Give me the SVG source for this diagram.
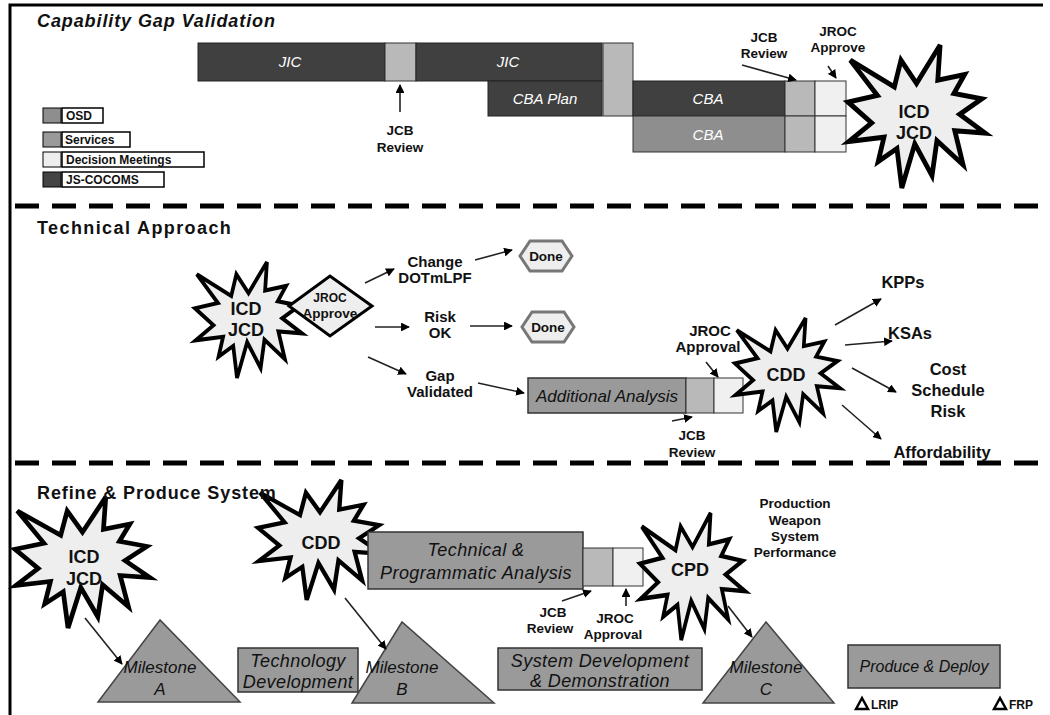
<svg xmlns="http://www.w3.org/2000/svg" xmlns:xlink="http://www.w3.org/1999/xlink" width="1050" height="715" viewBox="0 0 1050 715">
<style>
text{font-family:"Liberation Sans",Arial,sans-serif;text-anchor:middle;}
.title{font-size:18px;font-weight:bold;text-anchor:start;fill:#111;letter-spacing:0.9px;}
.lbl{font-size:13.5px;font-weight:bold;fill:#111;}
.lbm{font-size:15px;font-weight:bold;fill:#111;}
.lbr{font-size:16.5px;font-weight:bold;fill:#111;}
.sm{font-size:12px;}
.st{text-anchor:start;}
.bar{font-size:15px;font-style:italic;fill:#fff;}
.box{font-size:18px;font-style:italic;fill:#111;letter-spacing:0.4px;}
.boxs{font-size:17px;font-style:italic;fill:#111;}
.dark{fill:#404040;stroke:#222;stroke-width:1;}
.mid{fill:#8e8e8e;stroke:#333;stroke-width:1;}
.gsq{fill:#b9b9b9;stroke:#333;stroke-width:1;}
.lsq{fill:#f0f0f0;stroke:#333;stroke-width:1;}
.gbox{fill:#9a9a9a;stroke:#333;stroke-width:1.5;}
.burst{fill:#eeeeee;stroke:#000;stroke-width:3.5;stroke-linejoin:miter;}
.burstt{font-size:18px;font-weight:bold;fill:#111;}
.conn{stroke:#222;stroke-width:1.6;fill:none;marker-end:url(#ah);}
.div{stroke:#000;stroke-width:5;stroke-dasharray:24 13;}
.leg{font-size:12px;font-weight:bold;text-anchor:start;fill:#111;}
.legb{fill:#fff;stroke:#000;stroke-width:1.5;}
.hex{fill:#eeeeee;stroke:#777;stroke-width:3;}
.tri{fill:#9a9a9a;stroke:#444;stroke-width:1.5;}
</style>
<defs>
<marker id="ah" viewBox="0 0 10 10" refX="9" refY="5" markerWidth="5.5" markerHeight="5.5" orient="auto" markerUnits="strokeWidth">
<path d="M0,0 L10,5 L0,10 z" fill="#000"/>
</marker>
<path id="seal" d="M50,26.85 L38.67,10.63 L33.85,29.26 L1.71,10.63 L21.42,35.26 L0,39.88 L17.23,54.51 L0.63,67.53 L26.24,64.53 L22.05,81.56 L35.72,72.36 L39.28,100 L48.76,69.14 L61.33,91.38 L64.91,66.93 L84,83.77 L77.95,59.92 L100,61.53 L81.51,48.5 L97.67,37.67 L77.32,33.86 L85.09,20.63 L65.53,24.65 L67.23,0 Z"/>
</defs>
<rect width="1050" height="715" fill="#fff"/>
<!-- frame -->
<path d="M10,715 L10,5 L1043,5" fill="none" stroke="#000" stroke-width="3"/>
<line class="div" x1="15" y1="206" x2="1040" y2="206"/>
<line class="div" x1="15" y1="463" x2="1040" y2="463"/>

<!-- ===== Section 1 ===== -->
<text class="title" x="37" y="27" font-style="italic">Capability Gap Validation</text>
<g id="jic1"><rect class="dark" x="198" y="43" width="187" height="38"/><text class="bar" x="290" y="67">JIC</text></g>
<g id="jcb1"><rect class="gsq" x="385" y="43" width="31" height="38"/></g>
<g id="jic2"><rect class="dark" x="416" y="43" width="186" height="38"/><text class="bar" x="508" y="67">JIC</text></g>
<g id="cbaplan"><rect class="dark" x="488" y="81" width="114" height="35"/><text class="bar" x="545" y="104">CBA Plan</text></g>
<g id="tall"><rect class="gsq" x="603" y="43" width="30" height="73"/></g>
<g id="cba1"><rect class="dark" x="633" y="81" width="152" height="35"/><text class="bar" x="708" y="104">CBA</text></g>
<g id="cba2"><rect class="mid" x="633" y="116" width="152" height="36"/><text class="bar" x="708" y="140">CBA</text></g>
<g id="sq1"><rect class="gsq" x="785" y="81" width="30" height="35"/><rect class="gsq" x="785" y="116" width="30" height="36"/></g>
<g id="sq2"><rect class="lsq" x="815" y="81" width="31" height="35"/><rect class="lsq" x="815" y="116" width="31" height="36"/></g>
<g id="icd1"><use href="#seal" class="burst" vector-effect="non-scaling-stroke" transform="translate(848,45) scale(1.37,1.43)"/>
<text class="burstt" x="914" y="118">ICD</text><text class="burstt" x="914" y="139">JCD</text></g>
<g id="legend">
<rect x="43" y="108" width="18" height="15" fill="#8e8e8e" stroke="#000"/><rect class="legb" x="62" y="108" width="41" height="15"/><text class="leg" x="66" y="120">OSD</text>
<rect x="43" y="132" width="18" height="15" fill="#9a9a9a" stroke="#000"/><rect class="legb" x="62" y="132" width="68" height="15"/><text class="leg" x="65" y="144">Services</text>
<rect x="43" y="152" width="18" height="15" fill="#eeeeee" stroke="#000"/><rect class="legb" x="62" y="152" width="142" height="15"/><text class="leg" x="66" y="164">Decision Meetings</text>
<rect x="43" y="172" width="18" height="15" fill="#444" stroke="#000"/><rect class="legb" x="62" y="172" width="102" height="15"/><text class="leg" x="66" y="184">JS-COCOMS</text>
</g>
<g id="lbl-jcb1"><text class="lbl" x="400" y="135">JCB</text><text class="lbl" x="400" y="152">Review</text></g>
<g id="lbl-jcb2"><text class="lbl" x="764" y="42">JCB</text><text class="lbl" x="764" y="58">Review</text></g>
<g id="lbl-jroc1"><text class="lbl" x="838" y="36">JROC</text><text class="lbl" x="838" y="52">Approve</text></g>

<!-- ===== Section 2 ===== -->
<text class="title" x="37" y="234" style="letter-spacing:1.4px">Technical Approach</text>
<g id="icd2"><use href="#seal" class="burst" vector-effect="non-scaling-stroke" transform="translate(195,262) scale(1.07,1.16)"/>
<text class="burstt" x="246" y="315">ICD</text><text class="burstt" x="246" y="336">JCD</text></g>
<g id="jroc2"><path d="M289,306 L330,276 L372,306 L330,336 Z" fill="#eee" stroke="#000" stroke-width="3"/>
<text class="lbl sm" x="330" y="302">JROC</text><text class="lbl" x="330" y="318">Approve</text></g>
<g id="lbl-change"><text class="lbm" x="435" y="267">Change</text><text class="lbm" x="435" y="283">DOTmLPF</text></g>
<g id="lbl-risk"><text class="lbm" x="440" y="322">Risk</text><text class="lbm" x="440" y="338">OK</text></g>
<g id="lbl-gap"><text class="lbm" x="440" y="381">Gap</text><text class="lbm" x="440" y="397">Validated</text></g>
<g id="done1"><path class="hex" d="M530,241 L562,241 L572,256 L562,271 L530,271 L520,256 Z"/><text class="lbl" x="546" y="261">Done</text></g>
<g id="done2"><path class="hex" d="M532,312 L564,312 L574,327 L564,342 L532,342 L522,327 Z"/><text class="lbl" x="548" y="332">Done</text></g>
<g id="aa"><rect class="gbox" x="528" y="378" width="158" height="35"/><text class="boxs" x="607" y="402">Additional Analysis</text>
<rect class="gsq" x="686" y="378" width="28" height="35"/><rect class="lsq" x="714" y="378" width="29" height="35"/></g>
<g id="lbl-jroc2"><text class="lbm" x="710" y="336">JROC</text><text class="lbm" x="708" y="352">Approval</text></g>
<g id="lbl-jcb3"><text class="lbl" x="692" y="440">JCB</text><text class="lbl" x="692" y="457">Review</text></g>
<g id="cdd1"><use href="#seal" class="burst" vector-effect="non-scaling-stroke" transform="translate(735,318) scale(1.05,1.14)"/>
<text class="burstt" x="786" y="381">CDD</text></g>
<g id="kpp"><text class="lbr" x="903" y="288">KPPs</text></g>
<g id="ksa"><text class="lbr" x="910" y="339">KSAs</text></g>
<g id="csr"><text class="lbr" x="948" y="375">Cost</text><text class="lbr" x="948" y="396">Schedule</text><text class="lbr" x="948" y="417">Risk</text></g>
<g id="aff"><text class="lbr" x="942" y="458">Affordability</text></g>

<!-- ===== Section 3 ===== -->
<g id="icd3"><use href="#seal" class="burst" vector-effect="non-scaling-stroke" transform="translate(15,497) scale(1.35,1.31)"/>
<text class="burstt" x="84" y="563">ICD</text><text class="burstt" x="84" y="585">JCD</text></g>
<g id="cdd2"><use href="#seal" class="burst" vector-effect="non-scaling-stroke" transform="translate(258,480) scale(1.24,1.2)"/>
<text class="burstt" x="321" y="549">CDD</text></g>
<text class="title" x="37" y="499">Refine &amp; Produce System</text>
<g id="tpa"><rect class="gbox" x="368" y="532" width="215" height="57"/><text class="box" x="476" y="556">Technical &amp;</text><text class="box" x="476" y="579">Programmatic  Analysis</text></g>
<g id="sq3"><rect class="gsq" x="583" y="548" width="30" height="38"/><rect class="lsq" x="613" y="548" width="30" height="38"/></g>
<g id="cpd"><use href="#seal" class="burst" vector-effect="non-scaling-stroke" transform="translate(640,513) scale(1.05,1.27)"/>
<text class="burstt" x="690" y="576">CPD</text></g>
<g id="lbl-prod"><text class="lbl" x="795" y="508">Production</text><text class="lbl" x="795" y="525">Weapon</text><text class="lbl" x="795" y="541">System</text><text class="lbl" x="795" y="557">Performance</text></g>
<g id="lbl-jcb4"><text class="lbl" x="553" y="617">JCB</text><text class="lbl" x="550" y="633">Review</text></g>
<g id="lbl-jroc3"><text class="lbl" x="615" y="623">JROC</text><text class="lbl" x="613" y="639">Approval</text></g>
<g id="msa"><path class="tri" d="M160,620 L98,702 L240,702 Z"/><text class="boxs" x="160" y="673">Milestone</text><text class="boxs" x="160" y="695">A</text></g>
<g id="td"><rect class="gbox" x="238" y="648" width="120" height="44"/><text class="box" x="298" y="667">Technology</text><text class="box" x="298" y="688">Development</text></g>
<g id="msb"><path class="tri" d="M402,622 L352,703 L494,703 Z"/><text class="boxs" x="402" y="673">Milestone</text><text class="boxs" x="402" y="695">B</text></g>
<g id="sdd"><rect class="gbox" x="498" y="648" width="204" height="42"/><text class="box" x="600" y="667">System Development</text><text class="box" x="600" y="687">&amp; Demonstration</text></g>
<g id="msc"><path class="tri" d="M766,622 L703,703 L834,703 Z"/><text class="boxs" x="766" y="673">Milestone</text><text class="boxs" x="766" y="695">C</text></g>
<g id="pd"><rect class="gbox" x="848" y="645" width="152" height="43"/><text class="boxs" x="924" y="672" style="font-size:16px">Produce &amp; Deploy</text></g>
<g id="lrip"><path d="M856,709 L862,698 L868,709 Z" fill="none" stroke="#000" stroke-width="2.5"/><text class="lbl sm st" x="871" y="709">LRIP</text></g>
<g id="frp"><path d="M994,709 L1000,698 L1006,709 Z" fill="none" stroke="#000" stroke-width="2.5"/><text class="lbl sm st" x="1009" y="709">FRP</text></g>

<g id="connectors">
<line class="conn" x1="400" y1="112" x2="400" y2="85"/>
<line class="conn" x1="742" y1="65" x2="796" y2="80"/>
<line class="conn" x1="828" y1="66" x2="836" y2="78"/>
<line class="conn" x1="365" y1="283" x2="394" y2="269"/>
<line class="conn" x1="475" y1="260" x2="512" y2="250"/>
<line class="conn" x1="375" y1="327" x2="409" y2="327"/>
<line class="conn" x1="470" y1="326" x2="512" y2="326"/>
<line class="conn" x1="368" y1="357" x2="406" y2="374"/>
<line class="conn" x1="478" y1="383" x2="524" y2="393"/>
<line class="conn" x1="706" y1="362" x2="718" y2="377"/>
<line class="conn" x1="672" y1="421" x2="692" y2="417"/>
<line class="conn" x1="835" y1="325" x2="881" y2="299"/>
<line class="conn" x1="845" y1="345" x2="892" y2="341"/>
<line class="conn" x1="852" y1="368" x2="896" y2="392"/>
<line class="conn" x1="842" y1="405" x2="881" y2="439"/>
<line class="conn" x1="85" y1="618" x2="122" y2="664"/>
<line class="conn" x1="345" y1="598" x2="386" y2="649"/>
<line class="conn" x1="728" y1="606" x2="752" y2="637"/>
<line class="conn" x1="562" y1="601" x2="591" y2="591"/>
<line class="conn" x1="626" y1="606" x2="626" y2="589"/>
</g>
</svg>
